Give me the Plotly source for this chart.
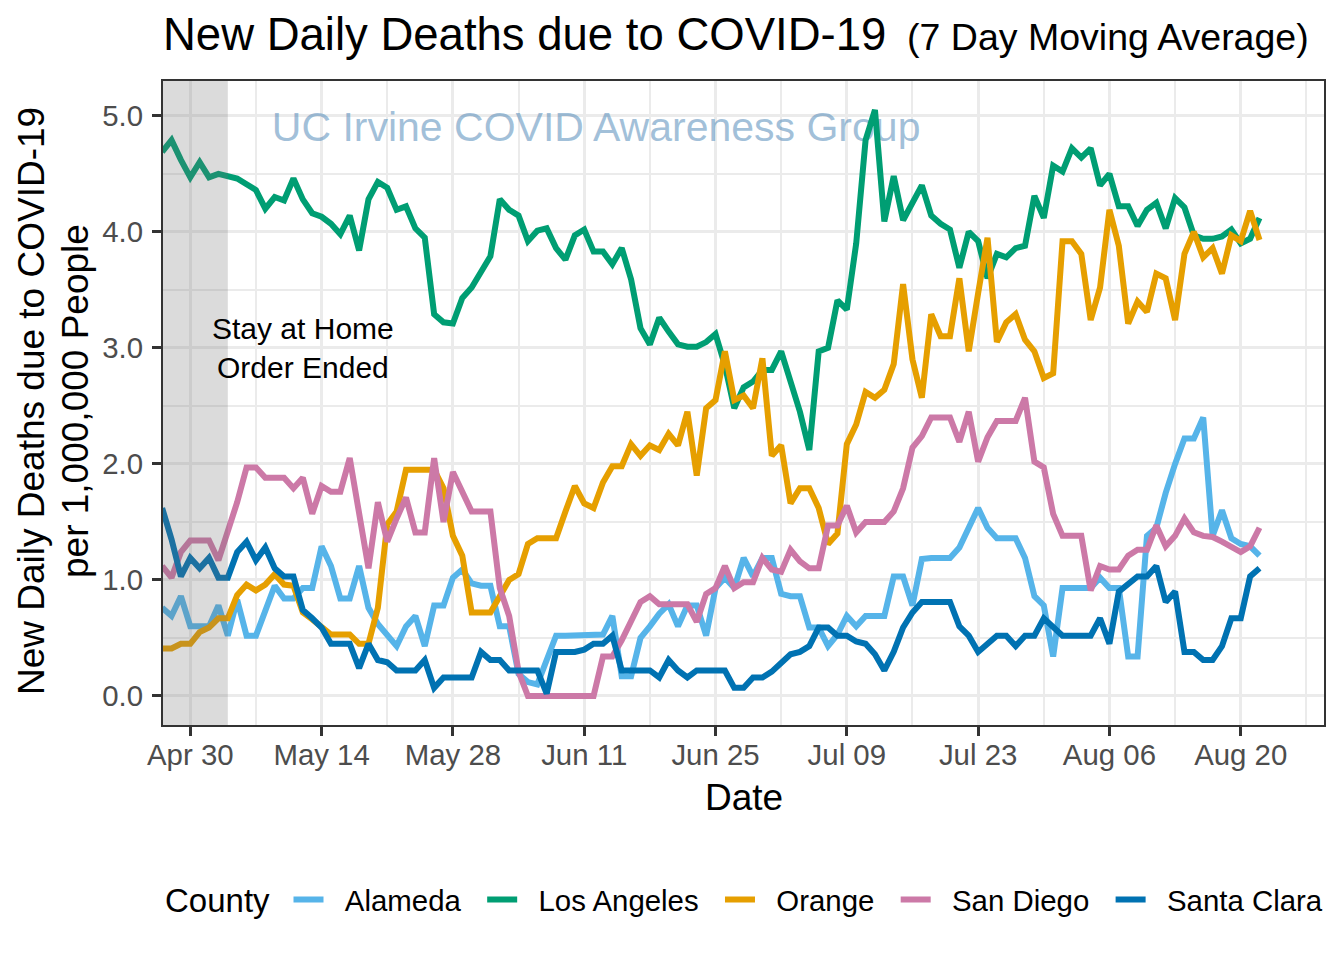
import pandas as pd
import plotly.graph_objects as go

# ---------------- data ----------------
start_date = "2020-04-27"
n_days = 118
dates = pd.date_range(start_date, periods=n_days, freq="D")

counties = ["Alameda", "Los Angeles", "Orange", "San Diego", "Santa Clara"]
colors = ["#56B4E9", "#009E73", "#E69F00", "#CC79A7", "#0072B2"]

alameda = [0.76, 0.69, 0.86, 0.60, 0.60, 0.60, 0.78, 0.52, 0.83, 0.52,
           0.52, 0.72, 0.95, 0.84, 0.84, 0.93, 0.93, 1.29, 1.12, 0.84,
           0.84, 1.12, 0.76, 0.62, 0.52, 0.43, 0.60, 0.69, 0.43, 0.78,
           0.78, 1.02, 1.09, 0.97, 0.95, 0.95, 0.60, 0.60, 0.19, 0.12,
           0.10, 0.31, 0.52, 0.52, 0.52, 0.52, 0.52, 0.53, 0.69, 0.17,
           0.17, 0.50, 0.60, 0.71, 0.79, 0.60, 0.78, 0.78, 0.52, 0.93,
           1.02, 0.93, 1.19, 1.03, 1.19, 1.19, 0.88, 0.86, 0.86, 0.59,
           0.59, 0.43, 0.53, 0.69, 0.60, 0.69, 0.69, 0.69, 1.03, 1.03,
           0.78, 1.18, 1.19, 1.19, 1.19, 1.28, 1.45, 1.62, 1.45, 1.36,
           1.36, 1.36, 1.19, 0.86, 0.78, 0.34, 0.93, 0.93, 0.93, 0.93,
           1.02, 0.93, 0.93, 0.34, 0.34, 1.38, 1.45, 1.75, 2.00, 2.22,
           2.22, 2.40, 1.38, 1.60, 1.36, 1.31, 1.29, 1.21]

los_angeles = [4.69, 4.79, 4.62, 4.47, 4.60, 4.47, 4.50, 4.48, 4.46, 4.41,
               4.36, 4.20, 4.30, 4.27, 4.46, 4.28, 4.16, 4.13, 4.07, 3.98,
               4.14, 3.84, 4.28, 4.43, 4.38, 4.19, 4.22, 4.03, 3.95, 3.29,
               3.22, 3.21, 3.43, 3.52, 3.66, 3.79, 4.28, 4.19, 4.14, 3.92,
               4.01, 4.03, 3.86, 3.76, 3.97, 4.02, 3.83, 3.83, 3.72, 3.86,
               3.59, 3.17, 3.03, 3.26, 3.14, 3.03, 3.01, 3.01, 3.05, 3.12,
               2.85, 2.48, 2.66, 2.71, 2.81, 2.81, 2.97, 2.71, 2.45, 2.12,
               2.97, 3.00, 3.41, 3.33, 3.90, 4.79, 5.05, 4.09, 4.48, 4.10,
               4.26, 4.40, 4.14, 4.07, 4.02, 3.69, 4.00, 3.92, 3.60, 3.81,
               3.78, 3.86, 3.88, 4.31, 4.12, 4.57, 4.52, 4.72, 4.64, 4.72,
               4.40, 4.50, 4.22, 4.22, 4.05, 4.19, 4.25, 4.03, 4.29, 4.21,
               3.97, 3.94, 3.94, 3.96, 4.02, 3.90, 3.94, 4.12]

orange = [0.41, 0.41, 0.45, 0.45, 0.55, 0.59, 0.67, 0.67, 0.87, 0.96,
          0.91, 0.96, 1.05, 0.96, 0.95, 0.72, 0.66, 0.59, 0.53, 0.53,
          0.53, 0.45, 0.45, 0.76, 1.48, 1.59, 1.95, 1.95, 1.95, 1.95,
          1.79, 1.38, 1.21, 0.72, 0.72, 0.72, 0.86, 1.00, 1.05, 1.31,
          1.36, 1.36, 1.36, 1.59, 1.81, 1.66, 1.62, 1.84, 1.98, 1.98,
          2.17, 2.07, 2.16, 2.12, 2.26, 2.16, 2.45, 1.90, 2.48, 2.55,
          2.97, 2.55, 2.59, 2.48, 2.91, 2.07, 2.16, 1.66, 1.79, 1.79,
          1.62, 1.31, 1.40, 2.17, 2.34, 2.62, 2.57, 2.64, 2.86, 3.55,
          2.90, 2.57, 3.29, 3.10, 3.10, 3.60, 2.97, 3.47, 3.95, 3.05,
          3.22, 3.29, 3.07, 2.97, 2.74, 2.78, 3.92, 3.92, 3.81, 3.24,
          3.52, 4.19, 3.88, 3.21, 3.40, 3.31, 3.64, 3.60, 3.24, 3.81,
          4.00, 3.78, 3.86, 3.64, 3.97, 3.92, 4.18, 3.93]

san_diego = [1.12, 1.02, 1.24, 1.34, 1.34, 1.34, 1.17, 1.42, 1.67, 1.97,
             1.97, 1.88, 1.88, 1.88, 1.79, 1.88, 1.57, 1.81, 1.76, 1.76,
             2.05, 1.57, 1.10, 1.67, 1.33, 1.53, 1.71, 1.41, 1.41, 2.05,
             1.50, 1.93, 1.76, 1.59, 1.59, 1.59, 0.93, 0.69, 0.21, 0.00,
             0.00, 0.00, 0.00, 0.00, 0.00, 0.00, 0.00, 0.34, 0.34, 0.48,
             0.66, 0.81, 0.86, 0.79, 0.79, 0.79, 0.79, 0.64, 0.88, 0.93,
             1.12, 0.93, 0.98, 0.98, 1.19, 1.09, 1.07, 1.26, 1.16, 1.10,
             1.10, 1.47, 1.47, 1.64, 1.41, 1.50, 1.50, 1.50, 1.59, 1.79,
             2.14, 2.24, 2.40, 2.40, 2.40, 2.19, 2.45, 2.02, 2.23, 2.37,
             2.37, 2.37, 2.57, 2.02, 1.97, 1.57, 1.38, 1.38, 1.38, 0.91,
             1.12, 1.09, 1.09, 1.21, 1.26, 1.26, 1.47, 1.29, 1.38, 1.53,
             1.41, 1.38, 1.37, 1.33, 1.29, 1.24, 1.29, 1.45]

santa_clara = [1.62, 1.35, 1.03, 1.19, 1.10, 1.19, 1.02, 1.02, 1.24, 1.33,
               1.17, 1.28, 1.10, 1.03, 1.03, 0.74, 0.67, 0.59, 0.45, 0.45,
               0.45, 0.24, 0.45, 0.31, 0.29, 0.22, 0.22, 0.22, 0.31, 0.07,
               0.16, 0.16, 0.16, 0.16, 0.38, 0.31, 0.31, 0.22, 0.22, 0.22,
               0.22, 0.02, 0.38, 0.38, 0.38, 0.40, 0.45, 0.45, 0.52, 0.22,
               0.22, 0.22, 0.22, 0.16, 0.31, 0.22, 0.16, 0.22, 0.22, 0.22,
               0.22, 0.07, 0.07, 0.16, 0.16, 0.21, 0.28, 0.36, 0.38, 0.43,
               0.59, 0.59, 0.52, 0.52, 0.47, 0.45, 0.36, 0.22, 0.38, 0.59,
               0.72, 0.81, 0.81, 0.81, 0.81, 0.60, 0.52, 0.38, 0.45, 0.52,
               0.52, 0.43, 0.52, 0.52, 0.67, 0.59, 0.52, 0.52, 0.52, 0.52,
               0.67, 0.45, 0.90, 0.97, 1.03, 1.03, 1.12, 0.81, 0.90, 0.38,
               0.38, 0.31, 0.31, 0.43, 0.67, 0.67, 1.03, 1.10]

series = [alameda, los_angeles, orange, san_diego, santa_clara]

stay_home_end = "2020-05-04"
x_range = ["2020-04-27 02:11", "2020-08-28 21:03"]
y_range = [-0.25, 5.30]

watermark_text = "UC Irvine COVID Awareness Group"
watermark_x = "2020-06-12 06:30"
watermark_y = 4.87
note_text = "Stay at Home<br>Order Ended"
note_x = "2020-05-12"
note_y = 3.0

FONT = "Liberation Sans, Arial, Helvetica, sans-serif"
NB = "\u00a0"

# panel geometry (pixels)
W, H = 1344, 960
PL, PR, PT, PB = 163, 1324, 81, 725
PW, PH = PR - PL, PB - PT


def px_x(px):
    return (px - PL) / PW


def px_y(py):
    return (PB - py) / PH


# ---------------- figure ----------------
fig = go.Figure()

# watermark (below the lines)
fig.add_trace(go.Scatter(
    x=[watermark_x], y=[watermark_y], mode="text", text=[watermark_text],
    textposition="middle center",
    textfont=dict(family=FONT, size=41, color="rgba(70,130,180,0.5)"),
    showlegend=False, hoverinfo="skip"))

for name, vals, col in zip(counties, series, colors):
    fig.add_trace(go.Scatter(
        x=dates, y=vals, mode="lines", name=NB * 2 + name + NB * 2,
        line=dict(color=col, width=6)))

# grey shaded region (drawn on top, semi-transparent)
fig.add_shape(type="rect", xref="x", yref="paper",
              x0=x_range[0], x1=stay_home_end, y0=0, y1=1,
              fillcolor="rgba(110,110,110,0.25)", line=dict(width=0),
              layer="above")

fig.add_annotation(x=note_x, y=note_y, text=note_text, showarrow=False,
                   font=dict(family=FONT, size=30, color="black"),
                   xanchor="center", yanchor="middle")

# axis titles
fig.add_annotation(xref="paper", yref="paper", x=0.5, y=px_y(797),
                   text="Date", showarrow=False,
                   font=dict(family=FONT, size=37, color="black"),
                   xanchor="center", yanchor="middle")
fig.add_annotation(xref="paper", yref="paper", x=px_x(31), y=px_y(401),
                   text="New Daily Deaths due to COVID-19", showarrow=False,
                   textangle=-90,
                   font=dict(family=FONT, size=37, color="black"),
                   xanchor="center", yanchor="middle")
fig.add_annotation(xref="paper", yref="paper", x=px_x(75), y=px_y(401),
                   text="per 1,000,000 People", showarrow=False,
                   textangle=-90,
                   font=dict(family=FONT, size=37, color="black"),
                   xanchor="center", yanchor="middle")

# legend title
fig.add_annotation(xref="paper", yref="paper", x=px_x(163), y=px_y(900),
                   text="County", showarrow=False,
                   font=dict(family=FONT, size=33, color="black"),
                   xanchor="left", yanchor="middle")

axis_common = dict(
    showline=True, mirror=True, linecolor="#333333", linewidth=2,
    ticks="outside", ticklen=9, tickwidth=2.5, tickcolor="#333333",
    tickfont=dict(family=FONT, size=29.4, color="#4D4D4D"),
    showgrid=True, gridcolor="#EBEBEB", gridwidth=3,
    zeroline=False,
)

fig.update_xaxes(
    type="date", range=x_range,
    tick0="2020-04-30", dtick=14 * 86400000, tickformat="%b %d",
    ticklabelstandoff=-6,
    minor=dict(tick0="2020-04-23", dtick=7 * 86400000, showgrid=True,
               gridcolor="#EBEBEB", gridwidth=1.5, ticks=""),
    **axis_common)
fig.update_yaxes(
    range=y_range, tick0=0, dtick=1, tickformat=".1f",
    ticklabelstandoff=3,
    minor=dict(dtick=0.5, showgrid=True, gridcolor="#EBEBEB",
               gridwidth=1.5, ticks=""),
    **axis_common)

fig.update_layout(
    width=W, height=H,
    margin=dict(l=PL, r=W - PR, t=PT, b=H - PB),
    plot_bgcolor="white", paper_bgcolor="white",
    font=dict(family=FONT, color="black"),
    title=dict(
        text="New Daily Deaths due to COVID-19"
             "<span style='font-size:37.5px'>" + NB * 2 + "(7 Day Moving Average)</span>",
        font=dict(family=FONT, size=45.5, color="black"),
        x=163 / W, xanchor="left", xref="container",
        y=1 - 34 / H, yanchor="middle", yref="container"),
    legend=dict(
        orientation="h", xref="container", yref="container",
        x=816 / W, xanchor="center",
        y=1 - 900 / H, yanchor="middle",
        font=dict(family=FONT, size=29.4, color="black"),
        itemwidth=30, bgcolor="rgba(0,0,0,0)"),
    showlegend=True,
)

fig.write_html(
    "out.html",
    config={"displayModeBar": False},
    post_script="document.body.style.margin='0px';document.body.style.padding='0px';",
)
